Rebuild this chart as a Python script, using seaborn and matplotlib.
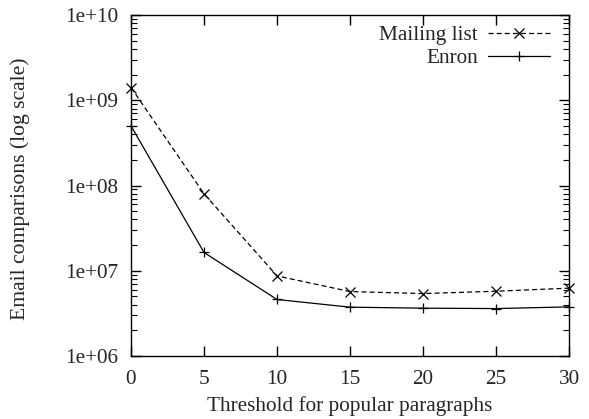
import numpy as np
import pandas as pd
import matplotlib
matplotlib.use("Agg")
import matplotlib.pyplot as plt
import matplotlib.ticker as mticker
import seaborn as sns

thresholds = [0, 5, 10, 15, 20, 25, 30]
mailing_list = [1.41e9, 8.0e7, 8.7e6, 5.7e6, 5.4e6, 5.75e6, 6.25e6]
enron = [5.0e8, 1.64e7, 4.6e6, 3.74e6, 3.64e6, 3.6e6, 3.77e6]
series_names = ["Mailing list", "Enron"]
x_ticks = [0, 5, 10, 15, 20, 25, 30]
y_ticks = [1e6, 1e7, 1e8, 1e9, 1e10]

sns.set_style("ticks")
plt.rcParams['font.family'] = ['Liberation Serif', 'DejaVu Serif']
FS = 15.3
YLABEL_FS = 15.6

df = pd.DataFrame({
    "x": thresholds * 2,
    "y": mailing_list + enron,
    "series": [series_names[0]] * len(thresholds) + [series_names[1]] * len(thresholds),
})

fig = plt.figure(figsize=(5.89, 4.19), dpi=100)
ax = fig.add_axes([131/589, 63/419, (569-131)/589, (356-15)/419])

styles = {
    "Mailing list": dict(linestyle=(0, (4, 2.5)), marker="x"),
    "Enron": dict(linestyle="-", marker="+"),
}
for name in series_names:
    sub = df[df["series"] == name]
    sns.lineplot(data=sub, x="x", y="y", ax=ax, color="black", linewidth=0.9,
                 markersize=7.5, markeredgewidth=0.9, markeredgecolor="black",
                 markerfacecolor="black", label=name, clip_on=False,
                 **styles[name])

ax.set_yscale("log")
ax.set_xlim(0, 30)
ax.set_ylim(1e6, 1e10)
ax.set_xticks(x_ticks)
ax.set_yticks(y_ticks)
ax.yaxis.set_major_formatter(mticker.FuncFormatter(lambda v, p: "1e+%02d" % int(round(np.log10(v)))))
ax.yaxis.set_minor_locator(mticker.LogLocator(base=10, subs=np.arange(2, 10), numticks=20))
ax.yaxis.set_minor_formatter(mticker.NullFormatter())
ax.tick_params(which="both", direction="in", top=True, right=True, labelsize=FS, color="black")
ax.tick_params(which="major", length=7, width=1)
ax.tick_params(axis="y", which="major", pad=9)
ax.tick_params(axis="x", which="major", pad=10)
ax.tick_params(which="minor", length=4, width=0.8)
for s in ax.spines.values():
    s.set_linewidth(1.0)
    s.set_color("black")
    s.set_visible(True)

ax.set_xlabel("Threshold for popular paragraphs", fontsize=FS)
ax.set_ylabel("Email comparisons (log scale)", fontsize=YLABEL_FS)
ax.xaxis.set_label_coords(0.5, (419 - 406 - 63) / 341, transform=ax.transAxes)
ax.xaxis.label.set_va("center")
ax.yaxis.set_label_coords((20 - 131) / 438, 0.49, transform=ax.transAxes)
ax.yaxis.label.set_va("center")

leg = ax.legend(loc="upper right", bbox_to_anchor=(1.0 + 2/438, 1.0 + 11/341),
                frameon=False, markerfirst=False, fontsize=FS,
                handlelength=2.92, handletextpad=0.45, labelspacing=0.15,
                borderaxespad=0.7, borderpad=0.3)

fig.savefig("out.png", dpi=100)
